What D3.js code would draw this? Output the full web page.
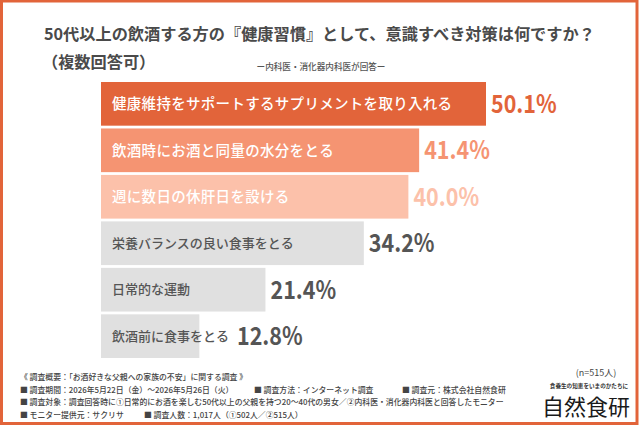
<!DOCTYPE html>
<meta charset="utf-8">
<script src="https://d3js.org/d3.v7.min.js"></script>
<div id="chart"></div>
<style>
  body { margin: 0; padding: 0; background: #fff; overflow: hidden; }
  text { font-family: "Noto Sans CJK JP", "Noto Sans", sans-serif; }
</style>
<script>
  const categories = [
    "健康維持をサポートするサプリメントを取り入れる",
    "飲酒時にお酒と同量の水分をとる",
    "週に数日の休肝日を設ける",
    "栄養バランスの良い食事をとる",
    "日常的な運動",
    "飲酒前に食事をとる"
  ];
  const values = [50.1, 41.4, 40.0, 34.2, 21.4, 12.8];
  const barColors = ["#e2643a", "#f59472", "#fcc1aa", "#e0e0e0", "#e0e0e0", "#e0e0e0"];
  const valueColors = ["#e2643a", "#f59472", "#fcc1aa", "#555555", "#555555", "#555555"];
  const labelColors = ["#ffffff", "#ffffff", "#ffffff", "#555555", "#555555", "#555555"];
  const labelSizes = [14.5, 14.5, 14.5, 13, 13, 13];

  const footerLines = [
    [[20, "《 調査概要：「お酒好きな父親への家族の不安」に関する調査 》"]],
    [[20, "■ 調査期間：2026年5月22日（金）〜2026年5月26日（火）"], [254, "■ 調査方法：インターネット調査"], [402, "■ 調査元：株式会社自然食研"]],
    [[20, "■ 調査対象：調査回答時に①日常的にお酒を楽しむ50代以上の父親を持つ20〜40代の男女／②内科医・消化器内科医と回答したモニター"]],
    [[20, "■ モニター提供元：サクリサ"], [144, "■ 調査人数：1,017人（①502人／②515人）"]]
  ];

  const W = 640, H = 426;
  const svg = d3.select("#chart").append("svg").attr("width", W).attr("height", H);

  // frame
  svg.append("rect").attr("x", 1.5).attr("y", 1).attr("width", W - 4.5).attr("height", H - 3.5)
    .attr("fill", "#fff").attr("stroke", "#e2643a").attr("stroke-width", 3);

  // titles
  svg.append("text").attr("x", 44).attr("y", 40)
    .attr("font-size", 16.2).attr("font-weight", 700).attr("fill", "#4a4a4a")
    .text("50代以上の飲酒する方の『健康習慣』として、意識すべき対策は何ですか？");
  svg.append("text").attr("x", 42).attr("y", 68)
    .attr("font-size", 16.2).attr("font-weight", 700).attr("fill", "#4a4a4a")
    .text("（複数回答可）");
  svg.append("text").attr("x", 321).attr("y", 70).attr("text-anchor", "middle")
    .attr("font-size", 8.6).attr("font-weight", 500).attr("fill", "#555")
    .text("ー内科医・消化器内科医が回答ー");

  const x = d3.scaleLinear().domain([0, 50.1]).range([101, 486]);
  const y = d3.scaleBand().domain(categories).range([82, 358]).paddingInner(0.06);

  const g = svg.append("g");
  g.selectAll("rect.bar").data(categories).join("rect")
    .attr("class", "bar")
    .attr("x", x(0))
    .attr("y", d => y(d))
    .attr("width", (d, i) => x(values[i]) - x(0))
    .attr("height", y.bandwidth())
    .attr("fill", (d, i) => barColors[i]);

  const labels = g.selectAll("text.lab").data(categories).join("text")
    .attr("class", "lab")
    .attr("x", x(0) + 11)
    .attr("y", d => y(d) + y.bandwidth() / 2)
    .attr("dy", "0.36em")
    .attr("font-size", (d, i) => labelSizes[i]).attr("font-weight", 500)
    .attr("letter-spacing", (d, i) => i < 3 ? 0.3 : 0)
    .attr("fill", (d, i) => labelColors[i])
    .text(d => d);

  const labelEnds = labels.nodes().map(n => x(0) + 11 + n.getComputedTextLength());

  g.selectAll("g.val").data(categories).join("g")
    .attr("class", "val")
    .attr("transform", (d, i) => {
      const vx = Math.max(x(values[i]) + 5, labelEnds[i] + 8);
      return `translate(${vx},${y(d) + y.bandwidth() / 2}) scale(0.86,1)`;
    })
    .append("text")
    .attr("dy", "0.36em")
    .attr("font-family", "Roboto, sans-serif")
    .attr("font-size", 25).attr("font-weight", 700)
    .attr("fill", (d, i) => valueColors[i])
    .text((d, i) => values[i].toFixed(1) + "%");

  // footer
  const fy = [380, 393, 405, 418];
  footerLines.forEach((line, li) => {
    line.forEach(([fx, t]) => {
      svg.append("text").attr("x", fx).attr("y", fy[li])
        .attr("font-size", 7.85).attr("font-weight", 500).attr("fill", "#444").text(t);
    });
  });

  svg.append("text").attr("x", 596).attr("y", 376).attr("text-anchor", "middle")
    .attr("font-size", 9).attr("fill", "#444").text("(n=515人)");
  svg.append("text").attr("x", 589).attr("y", 388).attr("text-anchor", "middle")
    .attr("font-size", 5.6).attr("font-weight", 700).attr("fill", "#333").text("食養生の知恵をいまのかたちに");
  svg.append("text").attr("x", 586).attr("y", 415).attr("text-anchor", "middle")
    .attr("font-size", 22).attr("font-weight", 400).attr("fill", "#1a1a1a")
    .attr("font-family", "'Noto Sans CJK JP', sans-serif").text("自然食研");
</script>
